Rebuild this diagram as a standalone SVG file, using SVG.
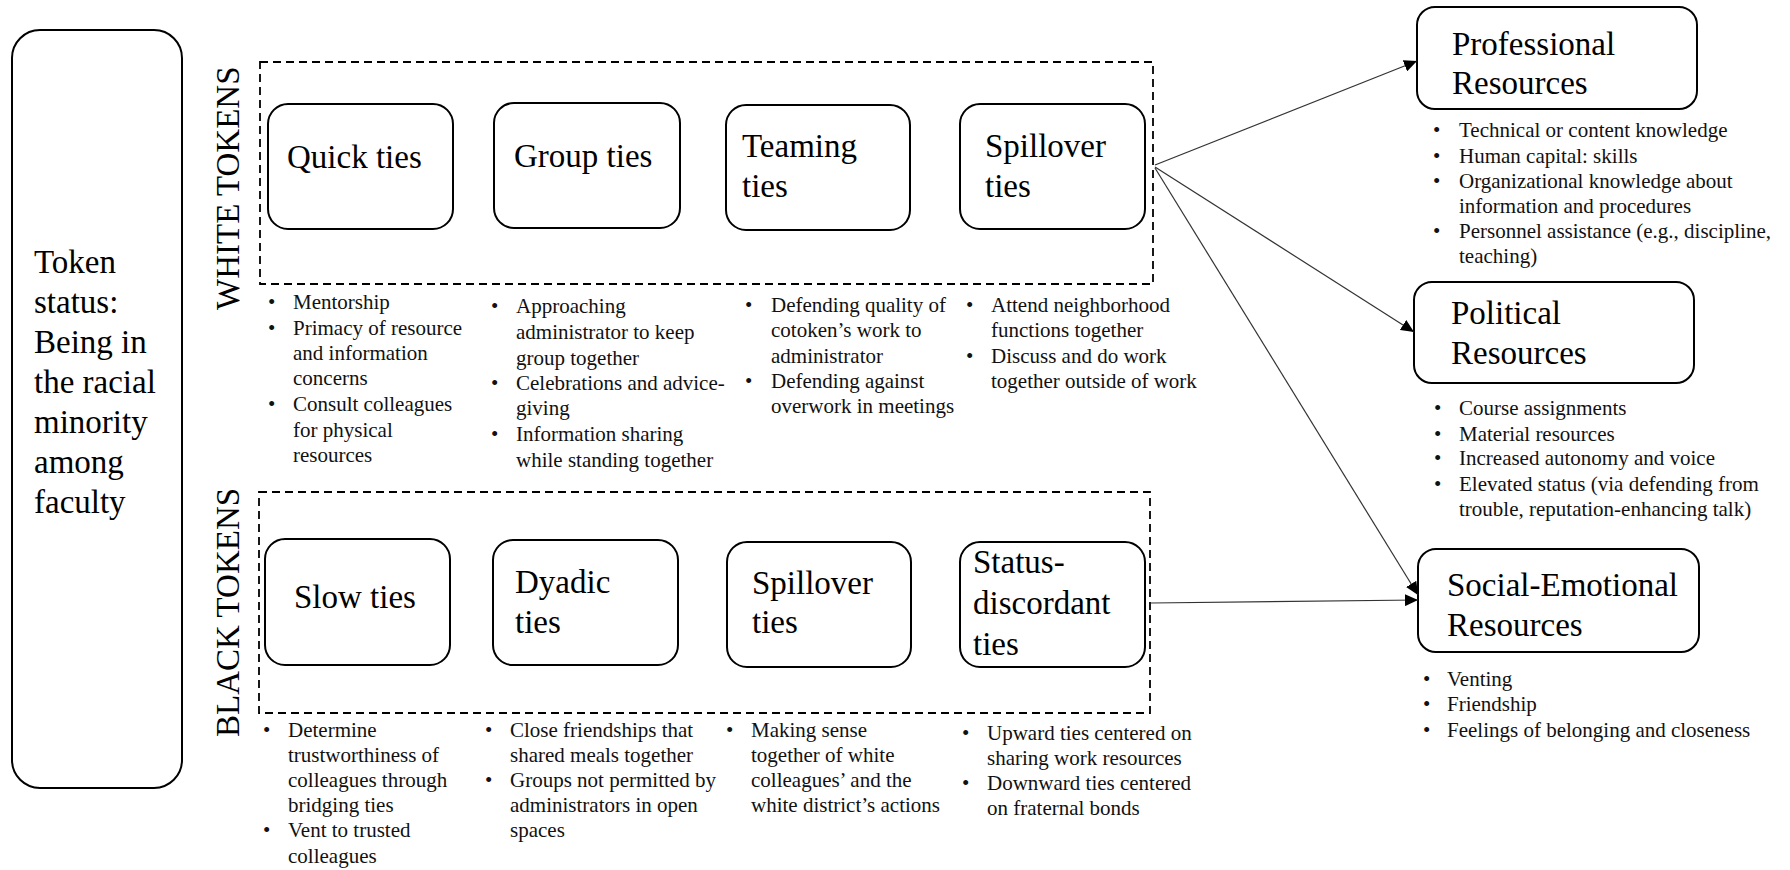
<svg xmlns="http://www.w3.org/2000/svg" width="1790" height="870" viewBox="0 0 1790 870">
  <style>
    .box { fill: #fff; stroke: #000; stroke-width: 2; }
    .group { fill: none; stroke: #000; stroke-width: 1.8; stroke-dasharray: 8 5; }
    .lbl { font-family: "Liberation Serif", "Times New Roman", serif; font-size: 33px; fill: #000; }
    .side { font-family: "Liberation Serif", "Times New Roman", serif; font-size: 33px; fill: #000; }
    .txt { font-family: "Liberation Serif", "Times New Roman", serif; font-size: 21px; fill: #111; }
    .conn { stroke: #333; stroke-width: 1.2; fill: none; marker-end: url(#arrow); }
  </style>
  <defs>
    <marker id="arrow" markerUnits="userSpaceOnUse" markerWidth="14" markerHeight="12" refX="13" refY="6" orient="auto">
      <path d="M0,0 L13,6 L0,12 z" fill="#000"/>
    </marker>
  </defs>
  <rect width="1790" height="870" fill="#fff"/>

  <!-- Left condition box -->
  <g id="token-status">
    <rect class="box" x="12" y="30" width="170" height="758" rx="28"/>
    <text class="lbl" x="34" y="273">Token</text>
    <text class="lbl" x="34" y="313">status:</text>
    <text class="lbl" x="34" y="353">Being in</text>
    <text class="lbl" x="34" y="393">the racial</text>
    <text class="lbl" x="34" y="433">minority</text>
    <text class="lbl" x="34" y="473">among</text>
    <text class="lbl" x="34" y="513">faculty</text>
  </g>

  <!-- White tokens group -->
  <g id="white-tokens">
    <rect class="group" x="260" y="62" width="893" height="222"/>
    <text class="side" transform="translate(239,310) rotate(-90)">WHITE TOKENS</text>
  </g>
  <g id="quick-ties">
    <rect class="box" x="268" y="104" width="185" height="125" rx="20"/>
    <text class="lbl" x="287" y="168">Quick ties</text>
  </g>
  <g id="group-ties">
    <rect class="box" x="494" y="103" width="186" height="125" rx="20"/>
    <text class="lbl" x="514" y="167">Group ties</text>
  </g>
  <g id="teaming-ties">
    <rect class="box" x="726" y="105" width="184" height="125" rx="20"/>
    <text class="lbl" x="742" y="157">Teaming</text>
    <text class="lbl" x="742" y="197">ties</text>
  </g>
  <g id="white-spillover-ties">
    <rect class="box" x="960" y="104" width="185" height="125" rx="20"/>
    <text class="lbl" x="985" y="157">Spillover</text>
    <text class="lbl" x="985" y="197">ties</text>
  </g>

  <!-- White tokens descriptions -->
  <g id="white-notes" class="txt">
    <text x="268" y="309">•</text><text x="293" y="309">Mentorship</text>
    <text x="268" y="335">•</text><text x="293" y="335">Primacy of resource</text>
    <text x="293" y="360">and information</text>
    <text x="293" y="385">concerns</text>
    <text x="268" y="411">•</text><text x="293" y="411">Consult colleagues</text>
    <text x="293" y="437">for physical</text>
    <text x="293" y="462">resources</text>

    <text x="491" y="313">•</text><text x="516" y="313">Approaching</text>
    <text x="516" y="339">administrator to keep</text>
    <text x="516" y="365">group together</text>
    <text x="491" y="390">•</text><text x="516" y="390">Celebrations and advice-</text>
    <text x="516" y="415">giving</text>
    <text x="491" y="441">•</text><text x="516" y="441">Information sharing</text>
    <text x="516" y="467">while standing together</text>

    <text x="745" y="312">•</text><text x="771" y="312">Defending quality of</text>
    <text x="771" y="337">cotoken’s work to</text>
    <text x="771" y="363">administrator</text>
    <text x="745" y="388">•</text><text x="771" y="388">Defending against</text>
    <text x="771" y="413">overwork in meetings</text>

    <text x="966" y="312">•</text><text x="991" y="312">Attend neighborhood</text>
    <text x="991" y="337">functions together</text>
    <text x="966" y="363">•</text><text x="991" y="363">Discuss and do work</text>
    <text x="991" y="388">together outside of work</text>
  </g>

  <!-- Black tokens group -->
  <g id="black-tokens">
    <rect class="group" x="259" y="492" width="891" height="221"/>
    <text class="side" transform="translate(239,737) rotate(-90)">BLACK TOKENS</text>
  </g>
  <g id="slow-ties">
    <rect class="box" x="265" y="539" width="185" height="126" rx="20"/>
    <text class="lbl" x="294" y="608">Slow ties</text>
  </g>
  <g id="dyadic-ties">
    <rect class="box" x="493" y="540" width="185" height="125" rx="20"/>
    <text class="lbl" x="515" y="593">Dyadic</text>
    <text class="lbl" x="515" y="633">ties</text>
  </g>
  <g id="black-spillover-ties">
    <rect class="box" x="727" y="542" width="184" height="125" rx="20"/>
    <text class="lbl" x="752" y="594">Spillover</text>
    <text class="lbl" x="752" y="633">ties</text>
  </g>
  <g id="status-discordant-ties">
    <rect class="box" x="960" y="542" width="185" height="125" rx="20"/>
    <text class="lbl" x="973" y="573">Status-</text>
    <text class="lbl" x="973" y="614">discordant</text>
    <text class="lbl" x="973" y="655">ties</text>
  </g>

  <!-- Black tokens descriptions -->
  <g id="black-notes" class="txt">
    <text x="263" y="737">•</text><text x="288" y="737">Determine</text>
    <text x="288" y="762">trustworthiness of</text>
    <text x="288" y="787">colleagues through</text>
    <text x="288" y="812">bridging ties</text>
    <text x="263" y="837">•</text><text x="288" y="837">Vent to trusted</text>
    <text x="288" y="863">colleagues</text>

    <text x="485" y="737">•</text><text x="510" y="737">Close friendships that</text>
    <text x="510" y="762">shared meals together</text>
    <text x="485" y="787">•</text><text x="510" y="787">Groups not permitted by</text>
    <text x="510" y="812">administrators in open</text>
    <text x="510" y="837">spaces</text>

    <text x="726" y="737">•</text><text x="751" y="737">Making sense</text>
    <text x="751" y="762">together of white</text>
    <text x="751" y="787">colleagues’ and the</text>
    <text x="751" y="812">white district’s actions</text>

    <text x="962" y="740">•</text><text x="987" y="740">Upward ties centered on</text>
    <text x="987" y="765">sharing work resources</text>
    <text x="962" y="790">•</text><text x="987" y="790">Downward ties centered</text>
    <text x="987" y="815">on fraternal bonds</text>
  </g>

  <!-- Resource outcomes -->
  <g id="professional-resources">
    <rect class="box" x="1417" y="7" width="280" height="102" rx="18"/>
    <text class="lbl" x="1452" y="55">Professional</text>
    <text class="lbl" x="1452" y="94">Resources</text>
    <g class="txt">
      <text x="1433" y="137">•</text><text x="1459" y="137">Technical  or content knowledge</text>
      <text x="1433" y="163">•</text><text x="1459" y="163">Human capital: skills</text>
      <text x="1433" y="188">•</text><text x="1459" y="188">Organizational knowledge about</text>
      <text x="1459" y="213">information and procedures</text>
      <text x="1433" y="238">•</text><text x="1459" y="238">Personnel assistance (e.g., discipline,</text>
      <text x="1459" y="263">teaching)</text>
    </g>
  </g>
  <g id="political-resources">
    <rect class="box" x="1414" y="282" width="280" height="101" rx="18"/>
    <text class="lbl" x="1451" y="324">Political</text>
    <text class="lbl" x="1451" y="364">Resources</text>
    <g class="txt">
      <text x="1434" y="415">•</text><text x="1459" y="415">Course assignments</text>
      <text x="1434" y="441">•</text><text x="1459" y="441">Material resources</text>
      <text x="1434" y="465">•</text><text x="1459" y="465">Increased autonomy and voice</text>
      <text x="1434" y="491">•</text><text x="1459" y="491">Elevated status (via defending from</text>
      <text x="1459" y="516">trouble, reputation-enhancing talk)</text>
    </g>
  </g>
  <g id="social-emotional-resources">
    <rect class="box" x="1418" y="549" width="281" height="103" rx="18"/>
    <text class="lbl" x="1447" y="596">Social-Emotional</text>
    <text class="lbl" x="1447" y="636">Resources</text>
    <g class="txt">
      <text x="1423" y="686">•</text><text x="1447" y="686">Venting</text>
      <text x="1423" y="711">•</text><text x="1447" y="711">Friendship</text>
      <text x="1423" y="737">•</text><text x="1447" y="737">Feelings of belonging and closeness</text>
    </g>
  </g>

  <!-- Connectors -->
  <g id="connectors">
    <line class="conn" x1="1155" y1="165" x2="1417" y2="61"/>
    <line class="conn" x1="1155" y1="167" x2="1414" y2="332"/>
    <line class="conn" x1="1155" y1="168" x2="1418" y2="595"/>
    <line class="conn" x1="1151" y1="603" x2="1418" y2="600"/>
  </g>
</svg>
